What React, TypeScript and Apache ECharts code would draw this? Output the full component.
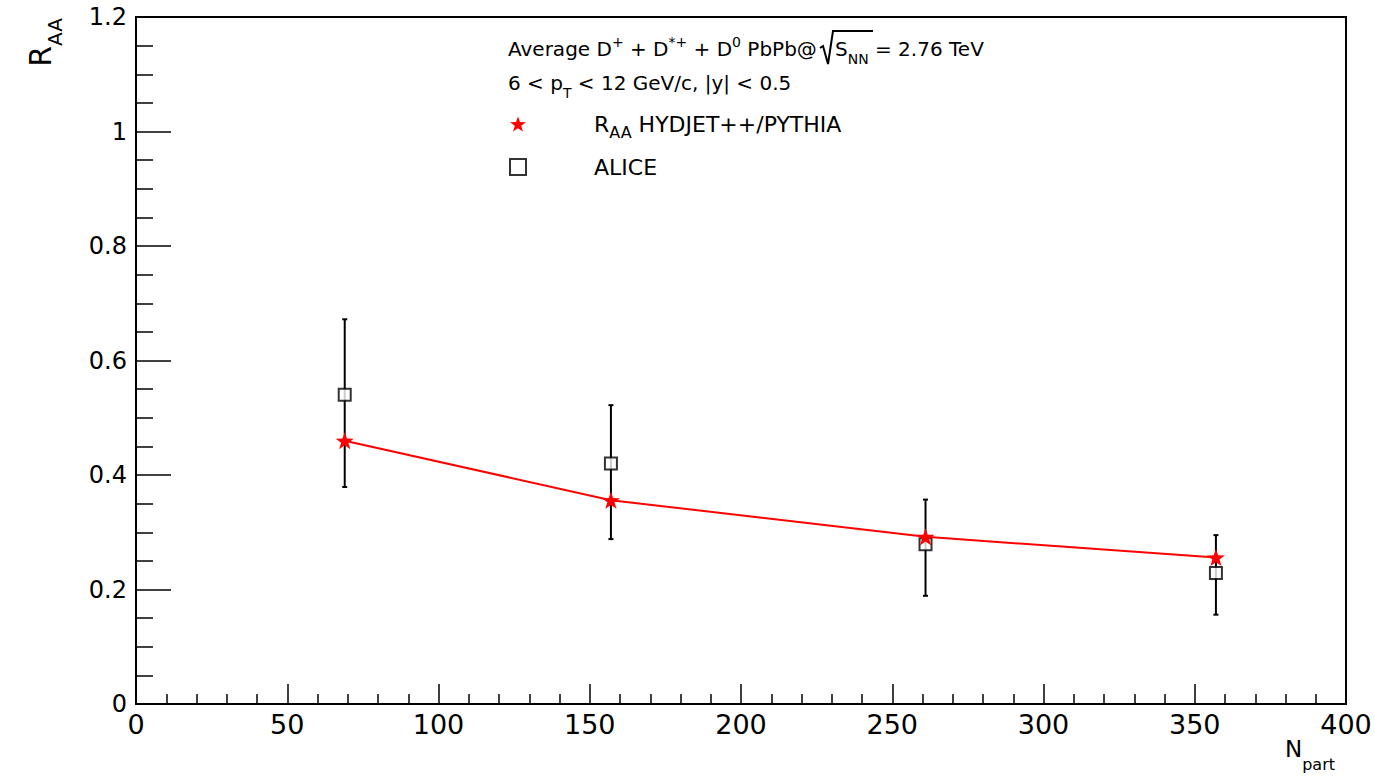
import React, { useEffect, useRef } from "react";
import * as echarts from "echarts";

// ---- data ----
const nPart = [69, 157, 261, 357];
const raaModel = [0.46, 0.356, 0.292, 0.256];
const raaAlice = [0.54, 0.42, 0.279, 0.229];
const aliceErrLow = [0.379, 0.288, 0.189, 0.156];
const aliceErrHigh = [0.672, 0.522, 0.357, 0.295];

const xMin = 0;
const xMax = 400;
const xStep = 50;
const yMin = 0;
const yMax = 1.2;
const yStep = 0.2;

const MODEL = "RAA HYDJET++/PYTHIA";
const ALICE = "ALICE";
const FONT = "DejaVu Sans";
const STAR =
  "path://M0,-10 L2.35,-3.24 L9.51,-3.09 L3.8,1.24 L5.88,8.09 L0,4 L-5.88,8.09 L-3.8,1.24 L-9.51,-3.09 L-2.35,-3.24 Z";

const headRich = {
  m: { fontFamily: FONT, fontSize: 20, lineHeight: 28, verticalAlign: "top", padding: [4, 0, 0, 0], color: "#000" },
  p: { fontFamily: FONT, fontSize: 14, lineHeight: 28, verticalAlign: "top", padding: [0, 0, 0, 0], color: "#000" },
  b: { fontFamily: FONT, fontSize: 14, lineHeight: 28, verticalAlign: "top", padding: [17, 0, 0, 0], color: "#000" },
};

function buildOption() {
  const errData = nPart.map((x, i) => [x, raaAlice[i], aliceErrLow[i], aliceErrHigh[i]]);
  const aliceData = nPart.map((x, i) => [x, raaAlice[i]]);
  const modelData = nPart.map((x, i) => [x, raaModel[i]]);

  return {
    animation: false,
    backgroundColor: "#fff",
    textStyle: { fontFamily: FONT },
    grid: {
      left: 136,
      top: 17,
      right: 29,
      bottom: 74,
      show: true,
      borderColor: "#000",
      borderWidth: 2,
      backgroundColor: "transparent",
      containLabel: false,
      outerBoundsMode: "none",
    },
    xAxis: {
      type: "value",
      min: xMin,
      max: xMax,
      interval: xStep,
      axisLine: { show: true, onZero: false, lineStyle: { color: "#000", width: 2 } },
      axisTick: { show: true, inside: true, length: 20, lineStyle: { color: "#000", width: 1.5 } },
      minorTick: { show: true, splitNumber: 5, length: 10, lineStyle: { color: "#000", width: 1.5 } },
      splitLine: { show: false },
      minorSplitLine: { show: false },
      axisLabel: { color: "#000", fontFamily: FONT, fontSize: 27, margin: 7 },
      name: "{n|N}{s|part}",
      nameLocation: "end",
      nameGap: -11,
      nameMoveOverlap: false,
      nameTextStyle: {
        align: "right",
        verticalAlign: "top",
        rich: {
          n: { fontFamily: FONT, fontSize: 23, lineHeight: 70, verticalAlign: "top", padding: [33, 0, 0, 0], color: "#000" },
          s: { fontFamily: FONT, fontSize: 16, lineHeight: 70, verticalAlign: "top", padding: [52, 0, 0, 0], color: "#000" },
        },
      },
    },
    yAxis: {
      type: "value",
      min: yMin,
      max: yMax,
      interval: yStep,
      axisLine: { show: true, onZero: false, lineStyle: { color: "#000", width: 2 } },
      axisTick: { show: true, inside: true, length: 35, lineStyle: { color: "#000", width: 1.5 } },
      minorTick: { show: true, splitNumber: 4, length: 17, lineStyle: { color: "#000", width: 1.5 } },
      splitLine: { show: false },
      minorSplitLine: { show: false },
      axisLabel: { color: "#000", fontFamily: FONT, fontSize: 24, margin: 9 },
      name: "{r|R}{s|AA}",
      nameLocation: "end",
      nameRotate: 90,
      nameGap: -1,
      nameMoveOverlap: false,
      nameTextStyle: {
        align: "right",
        verticalAlign: "bottom",
        rich: {
          r: { fontFamily: FONT, fontSize: 30, lineHeight: 130, verticalAlign: "top", padding: [19, 0, 0, 0], color: "#000" },
          s: { fontFamily: FONT, fontSize: 20, lineHeight: 130, verticalAlign: "top", padding: [39, 0, 0, 0], color: "#000" },
        },
      },
    },
    legend: {
      orient: "vertical",
      left: 509,
      top: 109,
      padding: 0,
      itemGap: 12,
      itemWidth: 16,
      itemHeight: 16,
      selectedMode: false,
      data: [
        { name: MODEL, icon: STAR },
        { name: ALICE, icon: "rect", itemStyle: { color: "#fff", borderColor: "#000", borderWidth: 2 } },
      ],
      formatter: (name: string) =>
        name === MODEL ? "{g| }{r|R}{s|AA}{r| HYDJET++/PYTHIA}" : "{g| }{r|ALICE}",
      textStyle: {
        fontFamily: FONT,
        color: "#000",
        rich: {
          g: { width: 63, fontSize: 10, lineHeight: 30 },
          r: { fontFamily: FONT, fontSize: 22, lineHeight: 30, verticalAlign: "top", padding: [4, 0, 0, 0], color: "#000" },
          s: { fontFamily: FONT, fontSize: 16, lineHeight: 30, verticalAlign: "top", padding: [15, 0, 0, 0], color: "#000" },
        },
      },
    },
    graphic: [
      {
        type: "text",
        x: 508,
        y: 35,
        style: {
          text: "{m|Average D}{p|+}{m| + D}{p|*+}{m| + D}{p|0}{m| PbPb@}",
          rich: headRich,
          align: "left",
          verticalAlign: "top",
        },
      },
      {
        type: "polyline",
        shape: { points: [[820, 48], [823, 46], [828, 64], [833, 31], [873, 31]] },
        style: { stroke: "#000", lineWidth: 2, fill: null },
      },
      {
        type: "text",
        x: 835,
        y: 35,
        style: {
          text: "{m|S}{b|NN}{m| = 2.76 TeV}",
          rich: headRich,
          align: "left",
          verticalAlign: "top",
        },
      },
      {
        type: "text",
        x: 508,
        y: 69,
        style: {
          text: "{m|6 < p}{b|T}{m| < 12 GeV/c, |y| < 0.5}",
          rich: headRich,
          align: "left",
          verticalAlign: "top",
        },
      },
    ],
    series: [
      {
        type: "custom",
        name: "ALICE errors",
        data: errData,
        encode: { x: 0, y: [1, 2, 3] },
        silent: true,
        z: 2,
        renderItem: (_params: any, api: any) => {
          const x = api.value(0);
          const lo = api.coord([x, api.value(2)]);
          const hi = api.coord([x, api.value(3)]);
          const cap = 2.5;
          const st = { stroke: "#000", lineWidth: 2 };
          return {
            type: "group",
            children: [
              { type: "line", shape: { x1: lo[0], y1: lo[1], x2: hi[0], y2: hi[1] }, style: st },
              { type: "line", shape: { x1: lo[0] - cap, y1: lo[1], x2: lo[0] + cap, y2: lo[1] }, style: st },
              { type: "line", shape: { x1: hi[0] - cap, y1: hi[1], x2: hi[0] + cap, y2: hi[1] }, style: st },
            ],
          };
        },
      },
      {
        type: "scatter",
        name: ALICE,
        data: aliceData,
        symbol: "rect",
        symbolSize: 12,
        itemStyle: { color: "#fff", borderColor: "#000", borderWidth: 2 },
        z: 3,
      },
      {
        type: "line",
        name: MODEL,
        data: modelData,
        symbol: STAR,
        symbolSize: 18,
        symbolKeepAspect: true,
        showSymbol: true,
        showAllSymbol: true,
        lineStyle: { color: "#ff0000", width: 2 },
        itemStyle: { color: "#ff0000" },
        z: 4,
      },
    ],
  };
}

export default function App() {
  const ref = useRef<HTMLDivElement>(null);
  useEffect(() => {
    document.body.style.margin = "0";
    const chart = echarts.init(ref.current as HTMLDivElement, null, { renderer: "svg" });
    chart.setOption(buildOption() as any);
    return () => chart.dispose();
  }, []);
  return <div ref={ref} style={{ width: 1375, height: 778 }} />;
}
